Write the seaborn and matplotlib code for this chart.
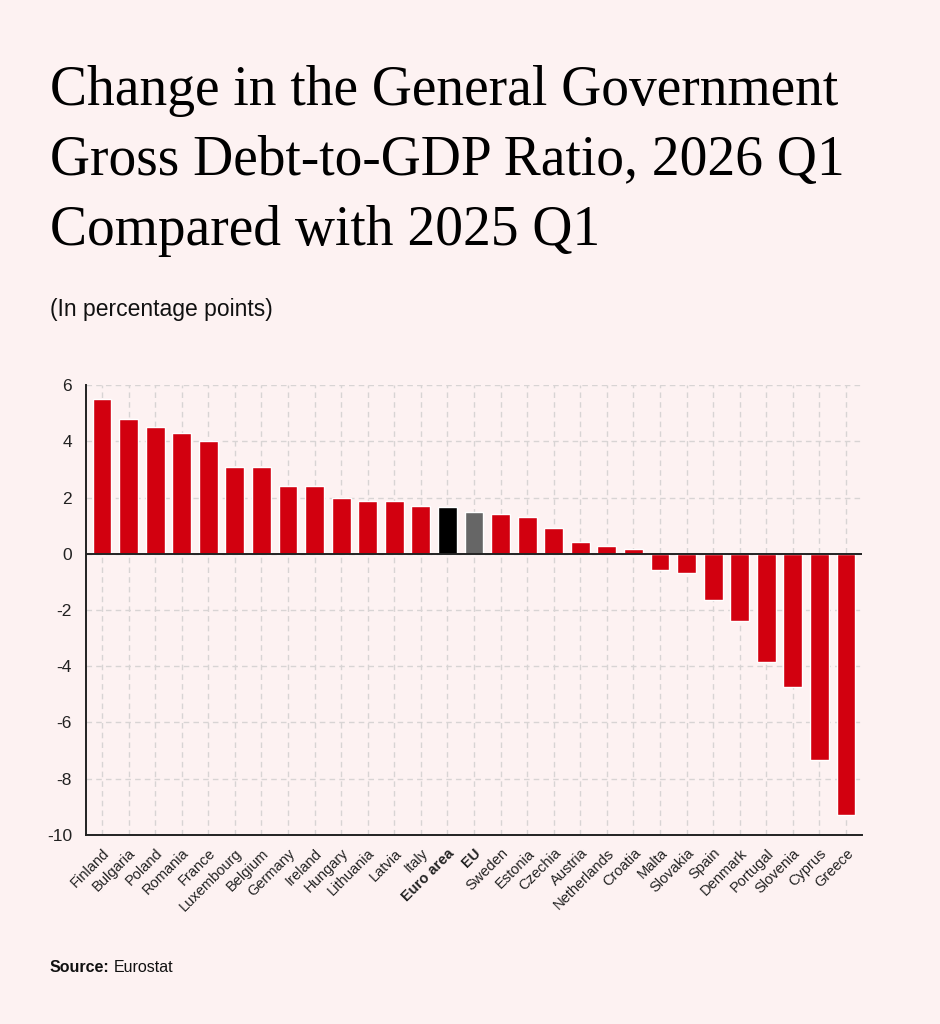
import matplotlib
matplotlib.use("Agg")
import matplotlib.pyplot as plt
from matplotlib.transforms import offset_copy
import seaborn as sns
import pandas as pd

countries = ["Finland", "Bulgaria", "Poland", "Romania", "France", "Luxembourg",
             "Belgium", "Germany", "Ireland", "Hungary", "Lithuania", "Latvia",
             "Italy", "Euro area", "EU", "Sweden", "Estonia", "Czechia", "Austria",
             "Netherlands", "Croatia", "Malta", "Slovakia", "Spain", "Denmark",
             "Portugal", "Slovenia", "Cyprus", "Greece"]
change = [5.5, 4.8, 4.5, 4.3, 4.0, 3.1, 3.08, 2.4, 2.4, 2.0, 1.88, 1.88,
          1.7, 1.65, 1.48, 1.42, 1.3, 0.9, 0.42, 0.28, 0.18, -0.58, -0.68,
          -1.66, -2.4, -3.86, -4.75, -7.33, -9.3]
yticks = [6, 4, 2, 0, -2, -4, -6, -8, -10]
title_lines = ["Change in the General Government",
               "Gross Debt-to-GDP Ratio, 2026 Q1",
               "Compared with 2025 Q1"]

bg = "#fdf2f2"
red = "#d2000f"
colors = {c: red for c in countries}
colors["Euro area"] = "#000000"
colors["EU"] = "#666666"

df = pd.DataFrame({"country": countries, "change": change})

sns.set_style("white")
plt.rcParams["font.family"] = ["Liberation Sans", "DejaVu Sans"]

fig = plt.figure(figsize=(9.4, 10.24), dpi=100, facecolor=bg)
ax = fig.add_axes([0.0915, 0.1846, 0.8255, 0.4394])
ax.set_facecolor(bg)

sns.barplot(data=df, x="country", y="change", hue="country", palette=colors,
            legend=False, width=0.71, saturation=1, ax=ax, zorder=3)

ax.set_xlim(-0.6, len(countries) - 0.4)
ax.set_ylim(-10, 6)
ax.set_yticks(yticks)
ax.set_yticklabels([str(t) for t in yticks], fontsize=12.5, color="#222222")
ax.set_xlabel("")
ax.set_ylabel("")
ax.grid(True, color="#d8d4d4", linestyle=(0, (4, 3)), linewidth=1, zorder=0)
ax.axhline(0, color="#222222", linewidth=1.4, zorder=4)

for s in ["top", "right"]:
    ax.spines[s].set_visible(False)
for s in ["left", "bottom"]:
    ax.spines[s].set_color("#222222")
    ax.spines[s].set_linewidth(1.4)

ax.tick_params(axis="x", length=5, width=1.2, color="#222222", pad=3)
ax.tick_params(axis="y", length=0, pad=10)
ax.set_xticks(range(len(countries)))
ax.set_xticklabels(countries, rotation=45, ha="right", rotation_mode="anchor",
                   fontsize=10.5, color="#222222")
for lab in ax.get_xticklabels():
    if lab.get_text() in ("Euro area", "EU"):
        lab.set_fontweight("bold")

# title, one line at a time on fixed baselines
for i, line in enumerate(title_lines):
    fig.text(0.053, 1 - (105 + 70 * i) / 1024, line, fontsize=40,
             family=["Liberation Serif", "DejaVu Serif"], va="baseline", ha="left",
             color="#000000")
fig.text(0.053, 1 - 316 / 1024, "(In percentage points)", fontsize=16.5,
         va="baseline", ha="left", color="#111111")

src = fig.text(0.053, 1 - 972 / 1024, "Source:", fontsize=11.5, fontweight="bold",
               va="baseline", ha="left", color="#111111")
fig.canvas.draw()
w = src.get_window_extent().width
fig.text(0.053, 1 - 972 / 1024, "Eurostat", fontsize=11.5, va="baseline", ha="left",
         color="#111111",
         transform=offset_copy(fig.transFigure, fig=fig, x=w + 4, y=0, units="dots"))

plt.savefig("out.png", dpi=100, facecolor=bg)
plt.close()
